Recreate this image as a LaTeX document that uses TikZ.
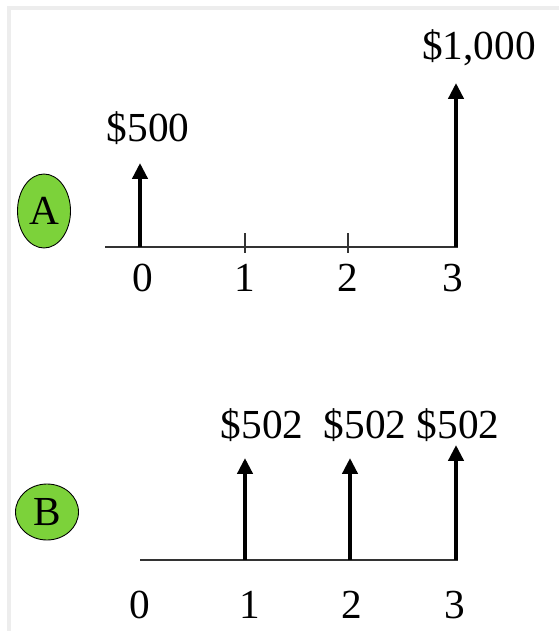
\documentclass[tikz,border=0pt]{standalone}
\usepackage{fontspec}
\setmainfont{Liberation Serif}
\usetikzlibrary{arrows.meta,shapes.geometric}
\definecolor{badgegreen}{RGB}{124,210,58}

\begin{document}
\begin{tikzpicture}[x=0.02cm, y=-0.02cm,
    every node/.style={font=\fontsize{23.5}{26}\selectfont, inner sep=0pt},
    flow/.style={line width=2.3pt, -{Triangle[length=9pt,width=8.5pt]}},
    axis/.style={line width=0.7pt, black!80},
    badge/.style={ellipse, draw, line width=0.5pt, fill=badgegreen}]

    \useasboundingbox (0,0) rectangle (559,631);

    % slide edge
    \draw[black!7, line width=2pt] (9,631) -- (9,8) -- (559,8);

    % Option A
    \node[badge, minimum width=1.06cm, minimum height=1.48cm] (optA) at (44,211) {A};

    \coordinate (aL) at (105,247);
    \coordinate (aR) at (458,247);
    \coordinate (a0) at (140,247);
    \coordinate (a1) at (245,247);
    \coordinate (a2) at (348,247);
    \coordinate (a3) at (456,247);
    \coordinate (a0top) at (140,163);
    \coordinate (a3top) at (456,83);

    \draw[axis] (aL) -- (aR);
    \draw[axis] ([yshift=0.28cm]a1) -- ([yshift=-0.12cm]a1);
    \draw[axis] ([yshift=0.28cm]a2) -- ([yshift=-0.12cm]a2);

    \draw[flow] (a0) -- (a0top);
    \draw[flow] (a3) -- (a3top);

    \node (p500) at (148,128) {\$500};
    \node (p1000) at (479,48) {\$1,000};

    \node (ta0) at (143,278) {0};
    \node (ta1) at (245,278) {1};
    \node (ta2) at (348,278) {2};
    \node (ta3) at (453,278) {3};

    % Option B
    \node[badge, minimum width=1.26cm, minimum height=1.12cm] (optB) at (47,512) {B};

    \coordinate (bL) at (140,560);
    \coordinate (bR) at (458,560);
    \coordinate (b1) at (245,560);
    \coordinate (b2) at (350,560);
    \coordinate (b3) at (456,560);
    \coordinate (b1top) at (245,458);
    \coordinate (b2top) at (350,458);
    \coordinate (b3top) at (456,445);

    \draw[axis] (bL) -- (bR);

    \draw[flow] (b1) -- (b1top);
    \draw[flow] (b2) -- (b2top);
    \draw[flow] (b3) -- (b3top);

    \node (pb1) at (262,425) {\$502};
    \node (pb2) at (365,425) {\$502};
    \node (pb3) at (458,425) {\$502};

    \node (tb0) at (140,605) {0};
    \node (tb1) at (250,605) {1};
    \node (tb2) at (352,605) {2};
    \node (tb3) at (455,605) {3};

\end{tikzpicture}
\end{document}
